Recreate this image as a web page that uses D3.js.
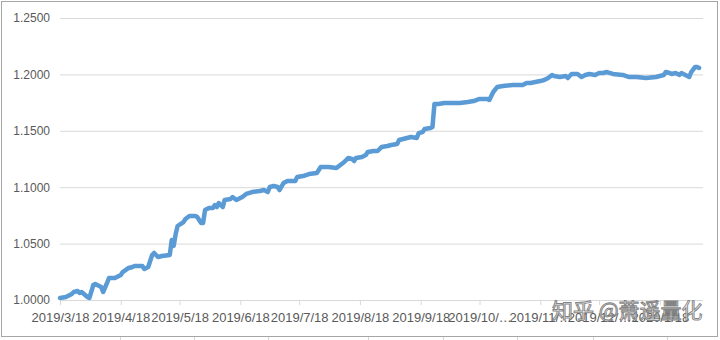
<!DOCTYPE html>
<html><head><meta charset="utf-8">
<script src="https://cdn.jsdelivr.net/npm/d3@7"></script>
<style>
html,body{margin:0;padding:0;background:#fff;}
svg{display:block;}
</style>
</head><body>
<svg id="chart" width="720" height="340"></svg>
<script>
// ---- data ----
const dates = [
"2019-03-18","2019-03-21","2019-03-24","2019-03-25","2019-03-27","2019-03-28","2019-03-29","2019-04-01","2019-04-02","2019-04-04",
"2019-04-05","2019-04-08","2019-04-09","2019-04-11","2019-04-12","2019-04-15","2019-04-18","2019-04-19","2019-04-22","2019-04-24",
"2019-04-25","2019-04-29","2019-04-30","2019-05-02","2019-05-04","2019-05-05","2019-05-07","2019-05-09","2019-05-13","2019-05-14",
"2019-05-15","2019-05-16","2019-05-17","2019-05-20","2019-05-21","2019-05-23","2019-05-26","2019-05-27","2019-05-29","2019-05-30",
"2019-05-31","2019-06-02","2019-06-04","2019-06-05","2019-06-06","2019-06-07","2019-06-09","2019-06-10","2019-06-13","2019-06-14",
"2019-06-16","2019-06-19","2019-06-21","2019-06-24","2019-06-28","2019-06-30","2019-07-02","2019-07-03","2019-07-05","2019-07-07",
"2019-07-08","2019-07-10","2019-07-12","2019-07-16","2019-07-17","2019-07-20","2019-07-23","2019-07-27","2019-07-29","2019-07-31",
"2019-08-02","2019-08-06","2019-08-08","2019-08-10","2019-08-12","2019-08-14","2019-08-15","2019-08-16","2019-08-19","2019-08-21",
"2019-08-22","2019-08-25","2019-08-27","2019-08-29","2019-09-01","2019-09-03","2019-09-06","2019-09-07","2019-09-09","2019-09-11",
"2019-09-13","2019-09-16","2019-09-17","2019-09-19","2019-09-20","2019-09-23","2019-09-24","2019-09-25","2019-09-27","2019-09-30",
"2019-10-04","2019-10-08","2019-10-12","2019-10-15","2019-10-18","2019-10-22","2019-10-23","2019-10-25","2019-10-27","2019-10-30",
"2019-11-04","2019-11-09","2019-11-11","2019-11-13","2019-11-18","2019-11-20","2019-11-22","2019-11-24","2019-11-25","2019-11-28",
"2019-12-01","2019-12-02","2019-12-04","2019-12-07","2019-12-09","2019-12-11","2019-12-13","2019-12-16","2019-12-18","2019-12-20",
"2019-12-22","2019-12-25","2019-12-30","2020-01-02","2020-01-06","2020-01-11","2020-01-16","2020-01-20","2020-01-21","2020-01-23",
"2020-01-24","2020-01-26","2020-01-28","2020-01-29","2020-01-31","2020-02-02","2020-02-03","2020-02-05","2020-02-06","2020-02-07"
];
const navValues = [
1.0018,1.0027,1.0053,1.0071,1.0080,1.0062,1.0071,1.0027,1.0018,1.0133,
1.0142,1.0115,1.0071,1.0151,1.0195,1.0195,1.0222,1.0248,1.0284,1.0293,
1.0301,1.0301,1.0275,1.0293,1.0399,1.0417,1.0381,1.0390,1.0399,1.0532,
1.0479,1.0585,1.0656,1.0691,1.0718,1.0745,1.0745,1.0736,1.0683,1.0683,
1.0798,1.0816,1.0816,1.0842,1.0824,1.0860,1.0824,1.0887,1.0895,1.0913,
1.0887,1.0913,1.0940,1.0957,1.0966,1.0975,1.0957,1.1002,1.1011,1.1002,
1.0975,1.1037,1.1055,1.1055,1.1090,1.1099,1.1117,1.1126,1.1179,1.1179,
1.1179,1.1170,1.1197,1.1223,1.1259,1.1250,1.1232,1.1259,1.1268,1.1285,
1.1312,1.1321,1.1321,1.1356,1.1365,1.1374,1.1383,1.1418,1.1427,1.1436,
1.1445,1.1436,1.1480,1.1489,1.1516,1.1525,1.1534,1.1738,1.1738,1.1746,
1.1746,1.1746,1.1755,1.1764,1.1782,1.1782,1.1773,1.1844,1.1888,1.1897,
1.1906,1.1906,1.1924,1.1924,1.1941,1.1950,1.1968,1.1995,1.1986,1.1977,
1.1986,1.1968,1.2004,1.2004,1.1977,1.1995,1.2004,1.1995,1.2012,1.2012,
1.2021,1.2004,1.1995,1.1977,1.1977,1.1968,1.1977,1.1995,1.2021,1.2012,
1.2004,1.2012,1.1995,1.2012,1.1995,1.1977,1.2021,1.2066,1.2066,1.2057
];
const xTickDates = ["2019-03-18","2019-04-18","2019-05-18","2019-06-18","2019-07-18","2019-08-18",
                    "2019-09-18","2019-10-18","2019-11-18","2019-12-18","2020-01-18"];
const xTickLabels = ["2019/3/18","2019/4/18","2019/5/18","2019/6/18","2019/7/18","2019/8/18",
                     "2019/9/18","2019/10/…","2019/11/…","2019/12/…","2020/1/18"];
const yTickValues = [1.00, 1.05, 1.10, 1.15, 1.20, 1.25];
const watermark = "知乎 @萧遥量化";

// ---- drawing ----
(function () {
  const parse = d3.utcParse("%Y-%m-%d");
  const data = dates.map((d, i) => ({date: parse(d), value: navValues[i]}));

  const svg = d3.select("#chart");
  const plotL = 60, plotR = 703, plotT = 18, plotB = 300;

  // chart outer border
  svg.append("rect").attr("x", 1.5).attr("y", 1.5).attr("width", 716).attr("height", 335)
    .attr("fill", "#fff").attr("stroke", "#a6a6a6").attr("stroke-width", 1);

  // spreadsheet column lines peeking below the chart
  [120, 194, 268, 368, 443, 517, 593, 667].forEach(xx => {
    svg.append("line").attr("x1", xx + 0.5).attr("x2", xx + 0.5).attr("y1", 337).attr("y2", 340)
      .attr("stroke", "#d4d4d4");
  });

  const x = d3.scaleUtc().domain([parse("2019-03-18"), parse("2020-02-09")]).range([plotL, plotR]);
  const y = d3.scaleLinear().domain([1.0, 1.25]).range([plotB, plotT]);

  // y gridlines + labels
  const yAxis = d3.axisLeft(y).tickValues(yTickValues).tickFormat(d3.format(".4f"))
    .tickSize(-(plotR - plotL)).tickPadding(10);
  const gy = svg.append("g").attr("transform", `translate(${plotL},0)`).call(yAxis);
  gy.select(".domain").remove();
  gy.selectAll(".tick line").attr("stroke", "#d9d9d9").attr("stroke-width", 1);
  gy.selectAll(".tick text").attr("fill", "#595959")
    .style("font-family", "'Liberation Sans', Arial, sans-serif").style("font-size", "12px");

  // x axis
  const xAxis = d3.axisBottom(x).tickValues(xTickDates.map(parse))
    .tickFormat((d, i) => xTickLabels[i]).tickSizeInner(5).tickSizeOuter(0).tickPadding(8);
  const gx = svg.append("g").attr("transform", `translate(0,${plotB})`).call(xAxis);
  gx.select(".domain").attr("stroke", "#d9d9d9").attr("d", `M${plotL},0.5H${plotR}`);
  gx.selectAll(".tick line").attr("stroke", "#d9d9d9");
  gx.selectAll(".tick text").attr("fill", "#595959")
    .style("font-family", "'Liberation Sans', Arial, sans-serif").style("font-size", "13px");

  // series line
  const line = d3.line().x(d => x(d.date)).y(d => y(d.value));
  svg.append("path").datum(data).attr("d", line)
    .attr("fill", "none").attr("stroke", "#5b9bd5").attr("stroke-width", 4.5)
    .attr("stroke-linejoin", "round").attr("stroke-linecap", "round");

  // watermark
  svg.append("text").attr("x", 552).attr("y", 318).text(watermark)
    .style("font-family", "'Noto Sans CJK SC', sans-serif").style("font-size", "21px")
    .attr("fill", "#ffffff").attr("fill-opacity", 0.9)
    .attr("stroke", "#6e6e6e").attr("stroke-width", 1).attr("stroke-opacity", 0.85);
})();
</script>
</body></html>
